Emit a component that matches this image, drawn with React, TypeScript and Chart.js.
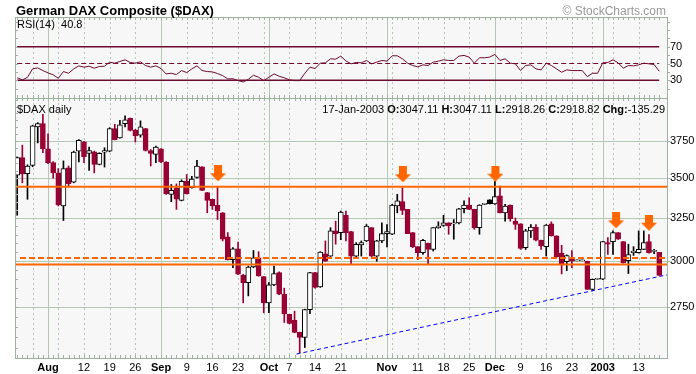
import React, { useEffect, useRef } from 'react';
import { Chart, registerables } from 'chart.js';

Chart.register(...registerables);

// ---------------- data ----------------
const lastDate = '17-Jan-2003';

const opens = [
  3520, 3637, 3530, 3585, 3852, 3876, 3698, 3603, 3535, 3323,
  3569, 3474, 3682, 3747, 3666, 3677, 3591, 3675, 3682, 3840,
  3774, 3876, 3915, 3830, 3794, 3840, 3686, 3659, 3698, 3608,
  3396, 3434, 3358, 3480, 3438, 3506, 3576, 3407, 3365, 3327,
  3281, 3137, 3006, 3068, 2919, 2880, 2965, 3016, 2912, 2773,
  2868, 2934, 2818, 2714, 2684, 2624, 2600, 2738, 2934, 2857,
  3039, 3026, 3172, 3162, 3266, 3168, 3026, 3090, 3113, 3191,
  3026, 3113, 3156, 3152, 3323, 3350, 3302, 3162, 3080, 3045,
  3099, 3064, 3191, 3204, 3220, 3214, 3220, 3306, 3329, 3302,
  3191, 3333, 3361, 3336, 3386, 3281, 3329, 3230, 3214, 3074,
  3172, 3195, 3117, 3080, 3214, 3143, 3043, 2995, 3018, 2999,
  2999, 2997, 2844, 2898, 2898, 3103, 3109, 3162, 3109, 3000,
  3045, 3045, 3064, 3109, 3053, 3047.11,
];
const highs = [
  3642, 3723, 3589, 3864, 3883, 3944, 3803, 3610, 3564, 3615,
  3581, 3682, 3762, 3750, 3709, 3682, 3671, 3705, 3847, 3871,
  3900, 3932, 3917, 3835, 3896, 3842, 3693, 3716, 3700, 3610,
  3459, 3463, 3490, 3524, 3513, 3619, 3577, 3408, 3366, 3443,
  3283, 3162, 3074, 3107, 2925, 2970, 3058, 3051, 2913, 2880,
  2970, 2939, 2850, 2714, 2730, 2625, 2740, 2936, 2936, 3051,
  3113, 3191, 3230, 3292, 3292, 3170, 3103, 3113, 3210, 3192,
  3117, 3220, 3210, 3333, 3396, 3438, 3302, 3162, 3081, 3123,
  3100, 3192, 3226, 3266, 3221, 3240, 3308, 3355, 3375, 3303,
  3331, 3336, 3363, 3480, 3449, 3333, 3330, 3249, 3215, 3181,
  3210, 3210, 3118, 3210, 3226, 3143, 3088, 3033, 3057, 2999,
  2999, 2998, 2899, 2898, 3110, 3133, 3172, 3162, 3110, 3094,
  3080, 3172, 3172, 3150, 3064, 3047.11,
];
const lows = [
  3266, 3470, 3365, 3576, 3739, 3671, 3596, 3501, 3323, 3234,
  3449, 3470, 3608, 3603, 3551, 3535, 3588, 3574, 3677, 3760,
  3772, 3852, 3823, 3745, 3779, 3682, 3581, 3603, 3603, 3396,
  3350, 3302, 3355, 3398, 3436, 3501, 3419, 3281, 3302, 3240,
  3113, 3004, 2961, 2923, 2773, 2809, 2961, 2914, 2722, 2722,
  2863, 2815, 2673, 2666, 2622, 2526, 2551, 2717, 2850, 2854,
  2995, 3024, 3094, 3120, 3113, 2984, 3017, 3026, 3109, 3020,
  2997, 3103, 3078, 3150, 3281, 3270, 3155, 3074, 3006, 3035,
  2984, 3055, 3187, 3199, 3152, 3123, 3214, 3281, 3300, 3181,
  3152, 3331, 3335, 3333, 3280, 3230, 3230, 3181, 3064, 3064,
  3133, 3113, 3064, 3026, 3141, 3020, 2927, 2945, 2962, 2999,
  2999, 2843, 2836, 2898, 2896, 3035, 3035, 3122, 2986, 2929,
  3030, 3043, 3063, 3043, 3040, 2918.26,
];
const closes = [
  3637, 3528, 3581, 3860, 3876, 3698, 3603, 3535, 3329, 3564,
  3465, 3676, 3757, 3644, 3686, 3592, 3666, 3686, 3840, 3762,
  3867, 3903, 3827, 3787, 3852, 3686, 3666, 3709, 3608, 3400,
  3421, 3365, 3480, 3400, 3495, 3581, 3421, 3358, 3323, 3292,
  3123, 3006, 3068, 2925, 2880, 2965, 3016, 2916, 2773, 2868,
  2929, 2818, 2717, 2668, 2624, 2600, 2738, 2934, 2854, 3049,
  2997, 3172, 3156, 3285, 3162, 3026, 3094, 3103, 3201, 3026,
  3113, 3156, 3168, 3329, 3355, 3295, 3156, 3080, 3045, 3117,
  3064, 3191, 3201, 3220, 3201, 3220, 3306, 3329, 3302, 3191,
  3329, 3334, 3338, 3382, 3281, 3323, 3245, 3210, 3070, 3172,
  3195, 3117, 3084, 3207, 3143, 3022, 2977, 3029, 2998, 2999,
  2999, 2844, 2898, 2898, 3109, 3094, 3162, 3123, 2988, 3035,
  3055, 3064, 3103, 3045, 3054.11, 2918.82,
];
const rsi14 = [
  32.9, 30.5, 33.5, 43.6, 44.8, 41.6, 38.8, 36.5, 32.4, 40.4,
  38.4, 43.6, 47.2, 45.6, 46.8, 44.4, 46.4, 46.8, 51.6, 50.4,
  52.4, 54.4, 51.2, 50.4, 52.0, 47.6, 45.6, 47.2, 44.0, 37.6,
  38.4, 36.8, 41.6, 39.2, 43.6, 47.2, 41.6, 40.4, 40.0, 38.0,
  35.6, 31.6, 31.9, 29.6, 28.0, 31.2, 36.0, 33.6, 29.6, 33.6,
  37.6, 34.8, 32.9, 30.5, 29.6, 29.6, 38.4, 45.6, 44.0, 50.4,
  50.8, 55.6, 55.2, 58.8, 53.0, 49.6, 51.2, 50.8, 53.6, 49.6,
  51.6, 53.6, 52.8, 59.2, 59.2, 55.6, 50.4, 47.6, 46.0, 48.4,
  47.6, 51.6, 52.8, 54.4, 53.6, 53.6, 58.8, 59.6, 57.6, 50.4,
  56.8, 56.8, 57.6, 60.8, 53.6, 55.6, 50.4, 49.6, 41.6, 47.6,
  48.4, 43.6, 42.4, 50.4, 47.6, 43.6, 39.6, 42.4, 41.6, 41.6,
  41.6, 34.4, 38.4, 38.4, 50.8, 51.2, 54.4, 50.8, 44.4, 47.6,
  47.2, 48.4, 50.4, 49.6, 48.8, 40.8,
];

// x-axis labels (trading-day index -> label)
const xTickIdx = [6, 13, 18, 23, 28, 33, 38, 43, 49, 53, 58, 63, 72, 78, 83, 88, 93, 98, 103, 108, 114, 121];
const xTickLabels = ['Aug', '12', '19', '26', 'Sep', '9', '16', '23', 'Oct', '7', '14', '21', 'Nov', '11', '18', '25', 'Dec', '9', '16', '23', '2003', '13'];
const monthStartIdx = [6, 28, 49, 72, 93, 114];
const mondayIdx = [3, 8, 13, 18, 23, 33, 38, 43, 48, 53, 58, 63, 68, 73, 78, 83, 88, 98, 103, 108, 112, 116, 121];

const priceTicks = [2750, 3000, 3250, 3500, 3750];
const rsiTicks = [30, 50, 70];
const rsiLevels = [70, 50, 30];

// annotations
const resistanceLevel = 3445;
const dashedSupportLevel = 3016;
const dashedSupportStart = 0.55;
const supportLevel = 2979;
const trendIdx = [54.4, 126.7];
const trendVals = [2520, 2923];
const arrowIdx = [39.1, 75.1, 93.1, 116.6, 123.0];
const arrowVals = [3532, 3526, 3530, 3235, 3221];

// ---------------- style ----------------
const FONT = '"Liberation Sans", Arial, Helvetica, sans-serif';
const MAROON = '#990033';
const RSI_COLOR = '#6E0A30';
const ORANGE = '#FF6600';
const BLUE = '#0000FF';
const PANEL_BG = '#F7F7F7';
const GRID = '#B4C8B4';
const BORDER = '#9DB39D';

const X_MIN = -0.43;
const X_MAX = 126.71;

function makeArrow(): HTMLCanvasElement {
  const c = document.createElement('canvas');
  c.width = 16;
  c.height = 16;
  const g = c.getContext('2d')!;
  g.fillStyle = ORANGE;
  g.fillRect(4, 0, 8, 8);
  g.beginPath();
  g.moveTo(0, 8);
  g.lineTo(16, 8);
  g.lineTo(8, 16);
  g.closePath();
  g.fill();
  return c;
}

const decorPlugin = {
  id: 'decor',
  beforeDatasetsDraw(chart: any) {
    const { ctx, chartArea } = chart;
    const { left, right } = chartArea;
    const xs = chart.scales.x;
    const ys = chart.scales.y;
    const rs = chart.scales.rsi;
    const panels = [
      [rs.top, rs.bottom],
      [ys.top, ys.bottom],
    ];
    ctx.save();
    ctx.fillStyle = PANEL_BG;
    for (const [t, b] of panels) ctx.fillRect(left, t, right - left, b - t);
    ctx.strokeStyle = GRID;
    ctx.lineWidth = 1;
    for (const [t, b] of panels) {
      ctx.setLineDash([2, 3]);
      for (const i of mondayIdx) {
        const x = Math.round(xs.getPixelForValue(i)) + 0.5;
        ctx.beginPath();
        ctx.moveTo(x, t);
        ctx.lineTo(x, b);
        ctx.stroke();
      }
      ctx.setLineDash([]);
      for (const i of monthStartIdx) {
        const x = Math.round(xs.getPixelForValue(i)) + 0.5;
        ctx.beginPath();
        ctx.moveTo(x, t);
        ctx.lineTo(x, b);
        ctx.stroke();
      }
    }
    for (const p of priceTicks) {
      const y = Math.round(ys.getPixelForValue(p)) + 0.5;
      ctx.beginPath();
      ctx.moveTo(left, y);
      ctx.lineTo(right, y);
      ctx.stroke();
    }
    ctx.restore();
  },
  afterDatasetsDraw(chart: any) {
    const { ctx, chartArea } = chart;
    const { left, right } = chartArea;
    const xs = chart.scales.x;
    const ys = chart.scales.y;
    const rs = chart.scales.rsi;
    const panels = [
      [rs.top, rs.bottom],
      [ys.top, ys.bottom],
    ];
    ctx.save();
    ctx.strokeStyle = BORDER;
    ctx.lineWidth = 1;
    for (const [t, b] of panels) {
      for (let i = 0; i < closes.length; i++) {
        const x = Math.round(xs.getPixelForValue(i)) + 0.5;
        ctx.beginPath();
        ctx.moveTo(x, t);
        ctx.lineTo(x, t + 3);
        ctx.moveTo(x, b);
        ctx.lineTo(x, b - 3);
        ctx.stroke();
      }
    }
    for (let p = 2550; p <= 4050; p += 50) {
      const y = Math.round(ys.getPixelForValue(p)) + 0.5;
      if (y < ys.top + 2 || y > ys.bottom - 2) continue;
      ctx.beginPath();
      ctx.moveTo(left, y);
      ctx.lineTo(left + 3, y);
      ctx.stroke();
    }
    for (let v = 10; v <= 100; v += 10) {
      const y = Math.round(rs.getPixelForValue(v)) + 0.5;
      if (y < rs.top + 2 || y > rs.bottom - 2) continue;
      ctx.beginPath();
      ctx.moveTo(left, y);
      ctx.lineTo(left + 3, y);
      ctx.moveTo(right, y);
      ctx.lineTo(right + 2, y);
      ctx.stroke();
    }
    for (const p of priceTicks) {
      const y = Math.round(ys.getPixelForValue(p)) + 0.5;
      ctx.beginPath();
      ctx.moveTo(right, y);
      ctx.lineTo(right + 2, y);
      ctx.stroke();
    }
    for (const [t, b] of panels) {
      ctx.strokeRect(Math.round(left) + 0.5, Math.round(t) + 0.5, Math.round(right - left) - 1, Math.round(b - t));
    }
    ctx.restore();
  },
  afterDraw(chart: any) {
    const { ctx } = chart;
    const n = closes.length;
    ctx.save();
    ctx.textBaseline = 'alphabetic';
    ctx.fillStyle = '#000';
    ctx.font = `bold 13px ${FONT}`;
    ctx.textAlign = 'left';
    ctx.fillText('German DAX Composite ($DAX)', 16, 15);
    ctx.fillStyle = '#999';
    ctx.font = `12px ${FONT}`;
    ctx.textAlign = 'right';
    ctx.fillText('\u00A9 StockCharts.com', 666, 15);

    ctx.fillStyle = '#000';
    ctx.textAlign = 'left';
    ctx.font = `11px ${FONT}`;
    ctx.fillText(`RSI(14)  ${rsi14[n - 1].toFixed(1)}`, 17, 28);
    ctx.fillText('$DAX daily', 17, 113);

    const chg = closes[n - 1] - closes[n - 2];
    const segs: [string, boolean][] = [
      [`${lastDate} `, false],
      ['O:', true], [`${opens[n - 1].toFixed(2)} `, false],
      ['H:', true], [`${highs[n - 1].toFixed(2)} `, false],
      ['L:', true], [`${lows[n - 1].toFixed(2)} `, false],
      ['C:', true], [`${closes[n - 1].toFixed(2)} `, false],
      ['Chg:', true], [`${chg.toFixed(2)}`, false],
    ];
    let total = 0;
    for (const [s, b] of segs) {
      ctx.font = `${b ? 'bold ' : ''}11px ${FONT}`;
      total += ctx.measureText(s).width;
    }
    let x = 665 - total;
    for (const [s, b] of segs) {
      ctx.font = `${b ? 'bold ' : ''}11px ${FONT}`;
      ctx.fillText(s, x, 113);
      x += ctx.measureText(s).width;
    }
    ctx.restore();
  },
};

export default function App() {
  const ref = useRef<HTMLCanvasElement>(null);

  useEffect(() => {
    const canvas = ref.current;
    if (!canvas) return;
    const n = closes.length;
    const idx = closes.map((_, i) => i);
    const colors = idx.map((i) => (i === 0 || closes[i] >= closes[i - 1] ? '#000000' : MAROON));
    const bodyBg = idx.map((i) => (closes[i] < opens[i] ? colors[i] : '#FFFFFF'));
    const arrow = makeArrow();
    const monthSet = new Set(monthStartIdx);

    const chart = new Chart(canvas, {
      type: 'bar',
      data: {
        datasets: [
          {
            type: 'line',
            label: 'arrows',
            data: arrowIdx.map((x, k) => ({ x, y: arrowVals[k] })),
            showLine: false,
            pointStyle: arrow as any,
            pointRadius: 8,
            yAxisID: 'y',
            order: 0,
          } as any,
          {
            type: 'line',
            label: 'resistance',
            data: [{ x: X_MIN, y: resistanceLevel }, { x: X_MAX, y: resistanceLevel }],
            borderColor: ORANGE,
            borderWidth: 2,
            pointRadius: 0,
            yAxisID: 'y',
            order: 2,
          },
          {
            type: 'line',
            label: 'dashed support',
            data: [{ x: dashedSupportStart, y: dashedSupportLevel }, { x: X_MAX, y: dashedSupportLevel }],
            borderColor: ORANGE,
            borderWidth: 2,
            borderDash: [6, 3],
            pointRadius: 0,
            yAxisID: 'y',
            order: 2,
          },
          {
            type: 'line',
            label: 'support',
            data: [{ x: X_MIN, y: supportLevel }, { x: X_MAX, y: supportLevel }],
            borderColor: ORANGE,
            borderWidth: 2,
            pointRadius: 0,
            yAxisID: 'y',
            order: 2,
          },
          {
            type: 'line',
            label: 'trend',
            data: trendIdx.map((x, k) => ({ x, y: trendVals[k] })),
            borderColor: BLUE,
            borderWidth: 1,
            borderDash: [4, 3],
            pointRadius: 0,
            yAxisID: 'y',
            order: 1,
          },
          {
            type: 'bar',
            label: 'body',
            data: idx.map((i) => ({ x: i, y: [opens[i], closes[i]] })),
            backgroundColor: bodyBg,
            borderColor: colors,
            borderWidth: 1,
            borderSkipped: false,
            barThickness: 5,
            grouped: false,
            minBarLength: 1,
            yAxisID: 'y',
            order: 10,
          } as any,
          {
            type: 'bar',
            label: 'wick',
            data: idx.map((i) => ({ x: i, y: [lows[i], highs[i]] })),
            backgroundColor: colors,
            borderWidth: 0,
            barThickness: 1,
            grouped: false,
            minBarLength: 1,
            yAxisID: 'y',
            order: 11,
          } as any,
          {
            type: 'line',
            label: 'RSI',
            data: idx.map((i) => ({ x: i, y: rsi14[i] })),
            borderColor: RSI_COLOR,
            borderWidth: 1,
            pointRadius: 0,
            tension: 0,
            yAxisID: 'rsi',
            order: 3,
          },
          ...rsiLevels.map((lv) => ({
            type: 'line' as const,
            label: `rsi${lv}`,
            data: [{ x: 0, y: lv }, { x: n - 1, y: lv }],
            borderColor: RSI_COLOR,
            borderWidth: lv === 50 ? 1 : 1.5,
            borderDash: lv === 50 ? [5, 3] : [],
            pointRadius: 0,
            yAxisID: 'rsi',
            order: 4,
          })),
        ],
      },
      options: {
        responsive: false,
        animation: false,
        devicePixelRatio: 1,
        events: [],
        layout: { padding: { left: 15, top: 17, right: 0, bottom: 0 } },
        plugins: {
          legend: { display: false },
          tooltip: { enabled: false },
          title: { display: false },
        },
        scales: {
          x: {
            type: 'linear',
            position: 'bottom',
            offset: false,
            min: X_MIN,
            max: X_MAX,
            grid: { display: false, drawTicks: false, offset: false },
            border: { display: false },
            afterBuildTicks: (s: any) => {
              s.ticks = xTickIdx.map((v) => ({ value: v }));
            },
            afterFit: (s: any) => {
              s.height = 16;
            },
            ticks: {
              autoSkip: false,
              maxRotation: 0,
              minRotation: 0,
              padding: 3,
              color: '#000',
              font: (c: any) => ({
                family: FONT,
                size: 11,
                weight: c.tick && monthSet.has(c.tick.value) ? 'bold' : 'normal',
              }),
              callback: (v: any) => {
                const k = xTickIdx.indexOf(Number(v));
                return k >= 0 ? xTickLabels[k] : '';
              },
            },
          },
          rsi: {
            type: 'linear',
            position: 'right',
            stack: 'panels',
            stackWeight: 81,
            min: 8.9,
            max: 105.4,
            grid: { display: false, drawTicks: false },
            border: { display: false },
            afterBuildTicks: (s: any) => {
              s.ticks = rsiTicks.map((v) => ({ value: v }));
            },
            afterFit: (s: any) => {
              s.width = 28;
            },
            ticks: {
              padding: 2,
              color: '#000',
              font: { family: FONT, size: 11 },
              callback: (v: any) => String(v),
            },
          },
          y: {
            type: 'logarithmic',
            position: 'right',
            stack: 'panels',
            stackWeight: 260,
            min: 2501.4,
            max: 4066,
            grid: { display: false, drawTicks: false },
            border: { display: false },
            afterBuildTicks: (s: any) => {
              s.ticks = priceTicks.map((v) => ({ value: v }));
            },
            afterFit: (s: any) => {
              s.width = 28;
            },
            ticks: {
              padding: 2,
              color: '#000',
              font: { family: FONT, size: 11 },
              callback: (v: any) => String(v),
            },
          },
        },
      } as any,
      plugins: [decorPlugin],
    });
    return () => chart.destroy();
  }, []);

  return (
    <div style={{ position: 'fixed', left: 0, top: 0, width: 696, height: 374, background: '#FFFFFF' }}>
      <canvas ref={ref} width={696} height={374} style={{ display: 'block', width: 696, height: 374 }} />
    </div>
  );
}
